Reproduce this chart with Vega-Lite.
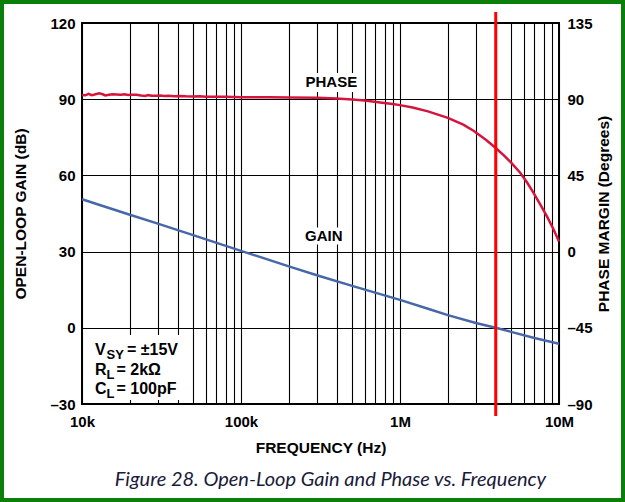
{
  "$schema": "https://vega.github.io/schema/vega-lite/v6.json",
  "width": 477,
  "height": 381,
  "autosize": "none",
  "padding": {"left": 82, "top": 23, "right": 66, "bottom": 98},
  "background": "white",
  "config": {
    "view": {"stroke": "#000000", "strokeWidth": 2},
    "font": "Liberation Sans",
    "axis": {
      "labelFont": "Liberation Sans", "labelFontSize": 15, "labelFontWeight": "bold", "labelColor": "#000000",
      "titleFont": "Liberation Sans", "titleFontSize": 15.5, "titleFontWeight": "bold", "titleColor": "#000000",
      "domain": false, "tickSize": 0, "labelFlush": false, "labelOverlap": false, "labelBound": false,
      "gridColor": "#000000", "gridWidth": 1.1, "gridOpacity": 1
    }
  },
  "title": {
    "text": "Figure 28. Open-Loop Gain and Phase vs. Frequency",
    "orient": "bottom", "anchor": "middle", "font": "Lato", "fontSize": 20,
    "fontStyle": "italic", "fontWeight": "normal", "color": "#1a1a3a", "baseline": "alphabetic", "offset": -16, "dx": 10
  },
  "datasets": {
    "gain": [
      {"freq": 10000, "gain": 50.6}, {"freq": 20000, "gain": 44.5}, {"freq": 30000, "gain": 41.0},
      {"freq": 50000, "gain": 36.5}, {"freq": 100000, "gain": 30.3}, {"freq": 200000, "gain": 24.2},
      {"freq": 300000, "gain": 20.7}, {"freq": 500000, "gain": 16.5}, {"freq": 1000000, "gain": 11.0},
      {"freq": 1500000, "gain": 7.5}, {"freq": 2000000, "gain": 5.0}, {"freq": 3000000, "gain": 1.9},
      {"freq": 4000000, "gain": 0.0}, {"freq": 5000000, "gain": -1.6}, {"freq": 7000000, "gain": -4.0},
      {"freq": 10000000, "gain": -6.3}
    ],
    "phase": [
      {"freq": 10000, "phase": 92.5}, {"freq": 10500, "phase": 92.3}, {"freq": 11000, "phase": 93.2},
      {"freq": 11500, "phase": 92.4}, {"freq": 12000, "phase": 92.8}, {"freq": 12800, "phase": 93.5},
      {"freq": 13500, "phase": 92.9}, {"freq": 14000, "phase": 92.2}, {"freq": 14800, "phase": 92.6},
      {"freq": 15500, "phase": 92.9}, {"freq": 16500, "phase": 92.8}, {"freq": 17500, "phase": 92.6},
      {"freq": 18500, "phase": 92.9}, {"freq": 19500, "phase": 92.5}, {"freq": 20500, "phase": 92.7},
      {"freq": 22000, "phase": 92.6}, {"freq": 23500, "phase": 92.2}, {"freq": 25000, "phase": 91.9},
      {"freq": 26000, "phase": 92.4}, {"freq": 27500, "phase": 92.1}, {"freq": 29000, "phase": 92.0},
      {"freq": 31000, "phase": 92.2}, {"freq": 33000, "phase": 91.9}, {"freq": 35000, "phase": 92.0},
      {"freq": 38000, "phase": 91.8}, {"freq": 41000, "phase": 91.9}, {"freq": 45000, "phase": 91.7},
      {"freq": 50000, "phase": 91.6}, {"freq": 55000, "phase": 91.7}, {"freq": 60000, "phase": 91.5},
      {"freq": 70000, "phase": 91.4}, {"freq": 80000, "phase": 91.4}, {"freq": 90000, "phase": 91.3},
      {"freq": 100000, "phase": 91.2}, {"freq": 150000, "phase": 91.1}, {"freq": 200000, "phase": 91.0},
      {"freq": 300000, "phase": 90.8}, {"freq": 400000, "phase": 90.4}, {"freq": 500000, "phase": 89.8},
      {"freq": 600000, "phase": 89.2}, {"freq": 750000, "phase": 88.1}, {"freq": 900000, "phase": 87.1},
      {"freq": 1000000, "phase": 86.5}, {"freq": 1200000, "phase": 85.1}, {"freq": 1500000, "phase": 82.8},
      {"freq": 2000000, "phase": 79.0}, {"freq": 2500000, "phase": 75.0}, {"freq": 2900000, "phase": 71.4},
      {"freq": 3500000, "phase": 65.8}, {"freq": 4000000, "phase": 61.2}, {"freq": 4500000, "phase": 56.8},
      {"freq": 5000000, "phase": 52.5}, {"freq": 5700000, "phase": 46.6}, {"freq": 6300000, "phase": 40.8},
      {"freq": 6900000, "phase": 34.8}, {"freq": 7600000, "phase": 28.0}, {"freq": 8400000, "phase": 20.8},
      {"freq": 9200000, "phase": 13.5}, {"freq": 10000000, "phase": 6.0}
    ],
    "boxes": [
      {"f1": 10300, "f2": 46400, "g1": -28.4, "g2": -2.8},
      {"f1": 242000, "f2": 577000, "g1": 92.8, "g2": 100.3},
      {"f1": 235000, "f2": 471000, "g1": 32.8, "g2": 39.5}
    ],
    "labels": [
      {"label": "PHASE", "freq": 370000, "gain": 96.8},
      {"label": "GAIN", "freq": 332000, "gain": 36.1}
    ],
    "conditions": [
      {"main": "V", "sub": "SY", "rest": "= ±15V", "gain": -8.7},
      {"main": "R", "sub": "L", "rest": "= 2kΩ", "gain": -16.6},
      {"main": "C", "sub": "L", "rest": "= 100pF", "gain": -24.1}
    ]
  },
  "resolve": {"scale": {"y": "independent"}},
  "layer": [
    {
      "data": {"name": "gain"},
      "mark": {"type": "line", "color": "#4768a8", "strokeWidth": 2.5},
      "encoding": {
        "x": {
          "field": "freq", "type": "quantitative",
          "scale": {"type": "log", "domain": [10000, 10000000], "nice": false},
          "axis": {
            "title": "FREQUENCY (Hz)",
            "values": [10000, 20000, 30000, 40000, 50000, 60000, 70000, 80000, 90000,
                       100000, 200000, 300000, 400000, 500000, 600000, 700000, 800000, 900000,
                       1000000, 2000000, 3000000, 4000000, 5000000, 6000000, 7000000, 8000000, 9000000, 10000000],
            "labelExpr": "datum.value == 10000 ? '10k' : datum.value == 100000 ? '100k' : datum.value == 1000000 ? '1M' : datum.value == 10000000 ? '10M' : ''",
            "grid": true, "labelPadding": 10, "titlePadding": 11
          }
        },
        "y": {
          "field": "gain", "type": "quantitative",
          "scale": {"domain": [-30, 120], "nice": false, "zero": false},
          "axis": {
            "title": "OPEN-LOOP GAIN (dB)", "orient": "left",
            "values": [-30, 0, 30, 60, 90, 120], "grid": true,
            "labelExpr": "datum.value < 0 ? '–' + abs(datum.value) : datum.label",
            "labelPadding": 7, "titlePadding": 21
          }
        }
      }
    },
    {
      "data": {"name": "phase"},
      "mark": {"type": "line", "color": "#d5153c", "strokeWidth": 2.5},
      "encoding": {
        "x": {"field": "freq", "type": "quantitative"},
        "y": {
          "field": "phase", "type": "quantitative",
          "scale": {"domain": [-90, 135], "nice": false, "zero": false},
          "axis": {
            "title": "PHASE MARGIN (Degrees)", "orient": "right",
            "values": [-90, -45, 0, 45, 90, 135], "grid": false,
            "labelExpr": "datum.value < 0 ? '–' + abs(datum.value) : datum.label",
            "labelPadding": 8, "titlePadding": 19, "titleAngle": 270
          }
        }
      }
    },
    {
      "data": {"name": "boxes"},
      "mark": {"type": "rect", "color": "#ffffff", "opacity": 1},
      "encoding": {
        "x": {"field": "f1", "type": "quantitative"},
        "x2": {"field": "f2"},
        "y": {"field": "g1", "type": "quantitative", "scale": {"domain": [-30, 120], "nice": false, "zero": false}, "axis": null},
        "y2": {"field": "g2"}
      }
    },
    {
      "data": {"name": "labels"},
      "mark": {"type": "text", "font": "Liberation Sans", "fontWeight": "bold", "fontSize": 15, "color": "#000000", "align": "center", "baseline": "middle"},
      "encoding": {
        "x": {"field": "freq", "type": "quantitative"},
        "y": {"field": "gain", "type": "quantitative", "scale": {"domain": [-30, 120], "nice": false, "zero": false}, "axis": null},
        "text": {"field": "label"}
      }
    },
    {
      "data": {"name": "conditions"},
      "mark": {"type": "text", "font": "Liberation Sans", "fontWeight": "bold", "fontSize": 16, "color": "#000000", "align": "left", "baseline": "middle", "dx": 13},
      "encoding": {
        "x": {"datum": 10000, "type": "quantitative"},
        "y": {"field": "gain", "type": "quantitative", "scale": {"domain": [-30, 120], "nice": false, "zero": false}, "axis": null},
        "text": {"field": "main"}
      }
    },
    {
      "data": {"name": "conditions"},
      "mark": {"type": "text", "font": "Liberation Sans", "fontWeight": "bold", "fontSize": 13, "color": "#000000", "align": "left", "baseline": "middle", "dx": 24.5, "dy": 5},
      "encoding": {
        "x": {"datum": 10000, "type": "quantitative"},
        "y": {"field": "gain", "type": "quantitative", "scale": {"domain": [-30, 120], "nice": false, "zero": false}, "axis": null},
        "text": {"field": "sub"}
      }
    },
    {
      "data": {"name": "conditions"},
      "transform": [{"filter": "datum.main == 'V'"}],
      "mark": {"type": "text", "font": "Liberation Sans", "fontWeight": "bold", "fontSize": 16, "color": "#000000", "align": "left", "baseline": "middle", "dx": 45},
      "encoding": {
        "x": {"datum": 10000, "type": "quantitative"},
        "y": {"field": "gain", "type": "quantitative", "scale": {"domain": [-30, 120], "nice": false, "zero": false}, "axis": null},
        "text": {"field": "rest"}
      }
    },
    {
      "data": {"name": "conditions"},
      "transform": [{"filter": "datum.main != 'V'"}],
      "mark": {"type": "text", "font": "Liberation Sans", "fontWeight": "bold", "fontSize": 16, "color": "#000000", "align": "left", "baseline": "middle", "dx": 34.5},
      "encoding": {
        "x": {"datum": 10000, "type": "quantitative"},
        "y": {"field": "gain", "type": "quantitative", "scale": {"domain": [-30, 120], "nice": false, "zero": false}, "axis": null},
        "text": {"field": "rest"}
      }
    },
    {
      "data": {"values": [{"freq": 4000000, "top": 124.3, "bottom": -34.7}]},
      "mark": {"type": "rule", "color": "#ff0000", "strokeWidth": 3},
      "encoding": {
        "x": {"field": "freq", "type": "quantitative"},
        "y": {"field": "top", "type": "quantitative", "scale": {"domain": [-30, 120], "nice": false, "zero": false}, "axis": null},
        "y2": {"field": "bottom"}
      }
    },
    {
      "data": {"values": [{"f1": 3140, "f2": 25270000, "g1": 128.27, "g2": -67.8}]},
      "mark": {"type": "rect", "filled": false, "color": "#0a7f0a", "stroke": "#0a7f0a", "strokeWidth": 4},
      "encoding": {
        "x": {"field": "f1", "type": "quantitative"},
        "x2": {"field": "f2"},
        "y": {"field": "g1", "type": "quantitative", "scale": {"domain": [-30, 120], "nice": false, "zero": false}, "axis": null},
        "y2": {"field": "g2"}
      }
    }
  ]
}
